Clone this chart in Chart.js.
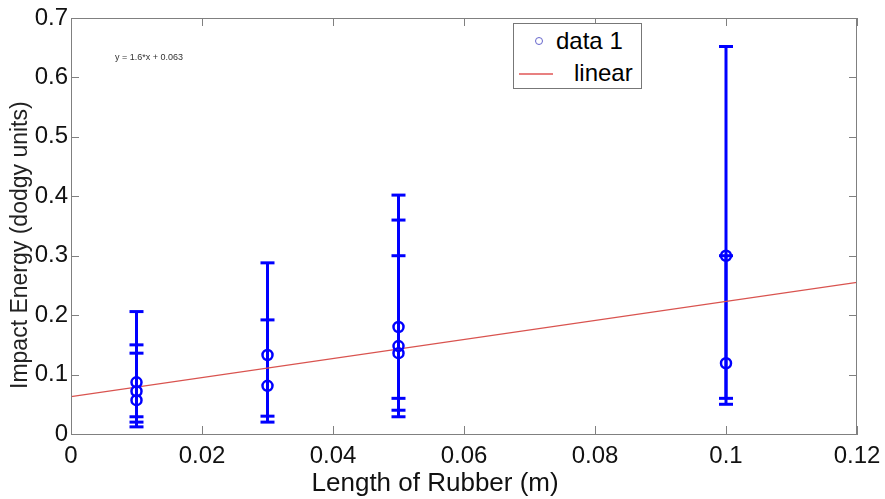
<!DOCTYPE html>
<html>
<head>
<meta charset="utf-8">
<script src="https://cdn.jsdelivr.net/npm/chart.js@4.4.1/dist/chart.umd.min.js"></script>
<style>
  body { margin: 0; background: #fff; }
  #wrap { position: relative; width: 885px; height: 499px; }
  #legend {
    position: absolute; left: 513px; top: 23px; width: 127px; height: 64px;
    border: 1px solid #777; background: #fff;
    font-family: 'Liberation Sans', Arial, sans-serif;
    font-size: 24px; color: #000;
  }
  #legend .row { position: absolute; left: 0; height: 30px; line-height: 30px; }
  #legend .mark { position: absolute; left: 21px; top: 11px; width: 6px; height: 6px;
    border: 1.5px solid #6666cc; border-radius: 50%; }
  #legend .ln { position: absolute; left: 5px; top: 15px; width: 34px; height: 0;
    border-top: 2px solid #e88080; }
  #eq { position: absolute; left: 115px; top: 52px; font-family: 'Liberation Sans', Arial, sans-serif;
    font-size: 9px; color: #333; }
</style>
</head>
<body>
<div id="wrap">
  <canvas id="grafico" width="885" height="499"></canvas>
  <div id="eq">y = 1.6*x + 0.063</div>
  <div id="legend">
    <div class="row" style="top:2px;width:127px"><span class="mark"></span><span style="position:absolute;left:42px">data&nbsp;1</span></div>
    <div class="row" style="top:34px;width:127px"><span class="ln"></span><span style="position:absolute;left:60px">linear</span></div>
  </div>
</div>
<script>
// datos
const longitudes = [0.01, 0.01, 0.01, 0.03, 0.03, 0.05, 0.05, 0.05, 0.1, 0.1];
const energias   = [0.087, 0.072, 0.057, 0.133, 0.081, 0.180, 0.148, 0.136, 0.300, 0.119];
const errorBajo  = [0.029, 0.020, 0.012, 0.030, 0.020, 0.060, 0.040, 0.029, 0.060, 0.050];
const errorAlto  = [0.206, 0.150, 0.136, 0.288, 0.192, 0.402, 0.360, 0.300, 0.652, 0.300];

// ajuste lineal y = 1.6*x + 0.063
const ajusteX = [0, 0.12];
const ajusteY = [0.063, 0.255];

const ticksX = ['0', '0.02', '0.04', '0.06', '0.08', '0.1', '0.12'];
const ticksY = ['0', '0.1', '0.2', '0.3', '0.4', '0.5', '0.6', '0.7'];

const AZUL = '#0000ff';
const fuenteTicks = { family: "'Liberation Sans', Arial, sans-serif", size: 24 };

const barras = longitudes.map((x, i) => ({
  type: 'line',
  data: [{ x: x, y: errorBajo[i] }, { x: x, y: errorAlto[i] }],
  borderColor: AZUL,
  borderWidth: 3,
  pointStyle: 'line',
  pointRadius: 7,
  pointBorderColor: AZUL,
  pointBorderWidth: 3,
  order: 3
}));

// marco y ticks hacia dentro, estilo matlab
const marco = {
  id: 'marco',
  afterDraw(chart) {
    const { ctx, chartArea: a, scales: { x, y } } = chart;
    ctx.save();
    ctx.strokeStyle = '#808080';
    ctx.lineWidth = 1;
    ctx.strokeRect(a.left + 0.5, a.top + 0.5, a.right - a.left - 1, a.bottom - a.top);
    ctx.beginPath();
    x.ticks.forEach(t => {
      const px = Math.round(x.getPixelForValue(t.value)) + 0.5;
      ctx.moveTo(px, a.bottom); ctx.lineTo(px, a.bottom - 8);
      ctx.moveTo(px, a.top); ctx.lineTo(px, a.top + 8);
    });
    y.ticks.forEach(t => {
      const py = Math.round(y.getPixelForValue(t.value)) + 0.5;
      ctx.moveTo(a.left, py); ctx.lineTo(a.left + 8, py);
      ctx.moveTo(a.right, py); ctx.lineTo(a.right - 8, py);
    });
    ctx.stroke();
    ctx.restore();
  }
};

new Chart(document.getElementById('grafico').getContext('2d'), {
  type: 'scatter',
  data: {
    datasets: [
      {
        label: 'data 1',
        data: longitudes.map((x, i) => ({ x: x, y: energias[i] })),
        pointStyle: 'circle',
        pointRadius: 5,
        pointBorderWidth: 2.5,
        borderColor: AZUL,
        backgroundColor: 'rgba(0,0,0,0)',
        order: 1
      },
      {
        type: 'line',
        label: 'linear',
        data: ajusteX.map((x, i) => ({ x: x, y: ajusteY[i] })),
        borderColor: '#d9534f',
        borderWidth: 1.3,
        pointRadius: 0,
        order: 2
      },
      ...barras
    ]
  },
  options: {
    responsive: false,
    animation: false,
    devicePixelRatio: 1,
    layout: { padding: { top: 18, right: 0, left: 0, bottom: 0 } },
    plugins: { legend: { display: false }, tooltip: { enabled: false } },
    scales: {
      x: {
        type: 'linear', min: 0, max: 0.12,
        afterFit(s) { s.height = 65; s.paddingRight = 28; s.paddingLeft = 0; },
        grid: { drawOnChartArea: false, drawTicks: false },
        border: { color: '#808080' },
        ticks: {
          stepSize: 0.02, padding: 8, color: '#111', font: fuenteTicks, maxRotation: 0,
          callback: (v, i) => ticksX[i]
        },
        title: {
          display: true, text: 'Length of Rubber (m)        ', color: '#111',
          font: { family: fuenteTicks.family, size: 26 }, padding: { top: -5, bottom: 0 }
        }
      },
      y: {
        type: 'linear', min: 0, max: 0.7,
        afterFit(s) { s.width = 71; },
        grid: { drawOnChartArea: false, drawTicks: false },
        border: { color: '#808080' },
        ticks: {
          stepSize: 0.1, padding: 3, color: '#111', font: fuenteTicks,
          callback: (v, i) => ticksY[i]
        },
        title: {
          display: true, text: 'Impact Energy (dodgy units)      ', color: '#222',
          font: { family: "'Liberation Sans', Arial, sans-serif", size: 23 }, padding: { top: 7, bottom: 0 }
        }
      }
    }
  },
  plugins: [marco]
});
</script>
</body>
</html>
